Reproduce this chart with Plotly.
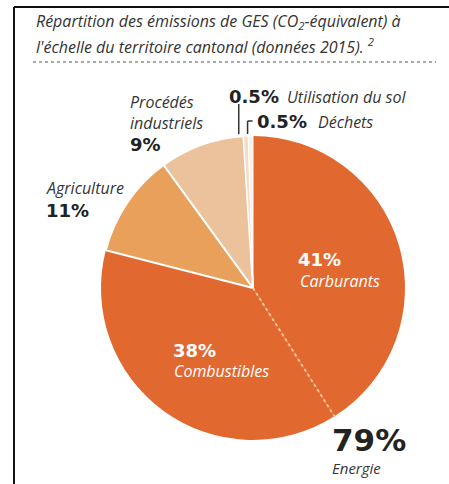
import math
import plotly.graph_objects as go

# GHG emissions by sector, canton-wide, 2015 (% of CO2-equivalent)
categories = ["Carburants", "Combustibles", "Agriculture",
              "Procédés industriels", "Utilisation du sol", "Déchets"]
shares = [41, 38, 11, 9, 0.5, 0.5]
energy_label = "Energie"
energy_share = shares[0] + shares[1]

slice_colors = ["#E1682E", "#E1682E", "#E9A05A", "#ECC29C", "#F0DDCC", "#F8F1EA"]
slice_edges = [0, 0, 2, 2, 1, 1]

W, H = 449, 484
CX, CY, R = 253, 288, 152  # pie centre and radius in pixels


def px(x, y):
    """pixel position -> paper coordinates"""
    return x / W, 1 - y / H


def pct(v):
    return f"{v:g}%"


def rim_point(frac, r=R):
    """pixel point on the pie at a cumulative fraction (clockwise from 12 o'clock)"""
    a = 2 * math.pi * frac
    return CX + r * math.sin(a), CY - r * math.cos(a)


fig = go.Figure(go.Pie(
    labels=categories,
    values=shares,
    sort=False,
    direction="clockwise",
    rotation=0,
    textinfo="none",
    hoverinfo="label+percent",
    marker=dict(colors=slice_colors, line=dict(color="white", width=slice_edges)),
    domain=dict(x=[(CX - R) / W, (CX + R) / W], y=[1 - (CY + R) / H, 1 - (CY - R) / H]),
    showlegend=False,
))

DARK = "#222222"
GREY = "#353535"
ITALIC_FONT = "Open Sans"
BOLD_FONT = "DejaVu Sans"

ann = []


def text(x, y, s, size, color=GREY, bold=False):
    if bold:
        s, family = f"<b>{s}</b>", BOLD_FONT
    else:
        s, family = f"<i>{s}</i>", ITALIC_FONT
    xx, yy = px(x, y)
    ann.append(dict(x=xx, y=yy, xref="paper", yref="paper", text=s, showarrow=False,
                    xanchor="left", yanchor="middle", align="left",
                    font=dict(family=family, size=size, color=color)))


# title
text(34, 22, "Répartition des émissions de GES (CO<sub>2</sub>-équivalent) à", 16, "#333")
text(34, 46, "l'échelle du territoire cantonal (données 2015). <sup>2</sup>", 16, "#333")

# sector labels
text(227, 96, pct(shares[4]), 18, DARK, bold=True)
text(285, 97, categories[4], 16)
text(255, 121, pct(shares[5]), 18, DARK, bold=True)
text(316, 122, categories[5], 16)

text(128, 112, categories[3].replace(" ", "<br>"), 16)
text(128, 144, pct(shares[3]), 18, DARK, bold=True)

text(44, 188, categories[2], 16)
text(44, 211, pct(shares[2]), 18, DARK, bold=True)

text(296, 259, pct(shares[0]), 18, "white", bold=True)
text(298, 281, categories[0], 16, "white")

text(171, 350, pct(shares[1]), 18, "white", bold=True)
text(172, 371, categories[1], 16, "white")

text(330, 440, pct(energy_share), 31, DARK, bold=True)
text(330, 468, energy_label, 15)

shapes = []


def seg(x0, y0, x1, y1, color, width, dash="solid"):
    a0, b0 = px(x0, y0)
    a1, b1 = px(x1, y1)
    shapes.append(dict(type="line", xref="paper", yref="paper", x0=a0, y0=b0, x1=a1, y1=b1,
                       line=dict(color=color, width=width, dash=dash)))


# frame and title rule
seg(14, 7, 14, H, "#111", 2)
seg(14, 7, W, 7, "#111", 2)
seg(33, 62, 436, 62, "#555", 1, "dot")

# dotted split between the two energy slices
ex, ey = rim_point(shares[0] / 100)
seg(CX, CY, ex, ey, "#F7C79A", 2, "dot")

# leader lines to the two thin slices
cum4 = sum(shares[:4]) / 100
mid_sol = cum4 + shares[4] / 200
mid_dech = cum4 + shares[4] / 100 + shares[5] / 200
ux, uy = rim_point(mid_sol, R + 2)
seg(ux - 7, 104, ux - 7, uy, "#333", 1.5)
dx, dy = rim_point(mid_dech, R + 2)
seg(dx - 3, dy, dx - 3, 121, "#333", 1.5)
seg(dx - 3, 121, dx + 2, 121, "#333", 1.5)

fig.update_layout(
    width=W, height=H,
    margin=dict(l=0, r=0, t=0, b=0),
    paper_bgcolor="white",
    plot_bgcolor="white",
    annotations=ann,
    shapes=shapes,
)

fig.write_html("out.html")
